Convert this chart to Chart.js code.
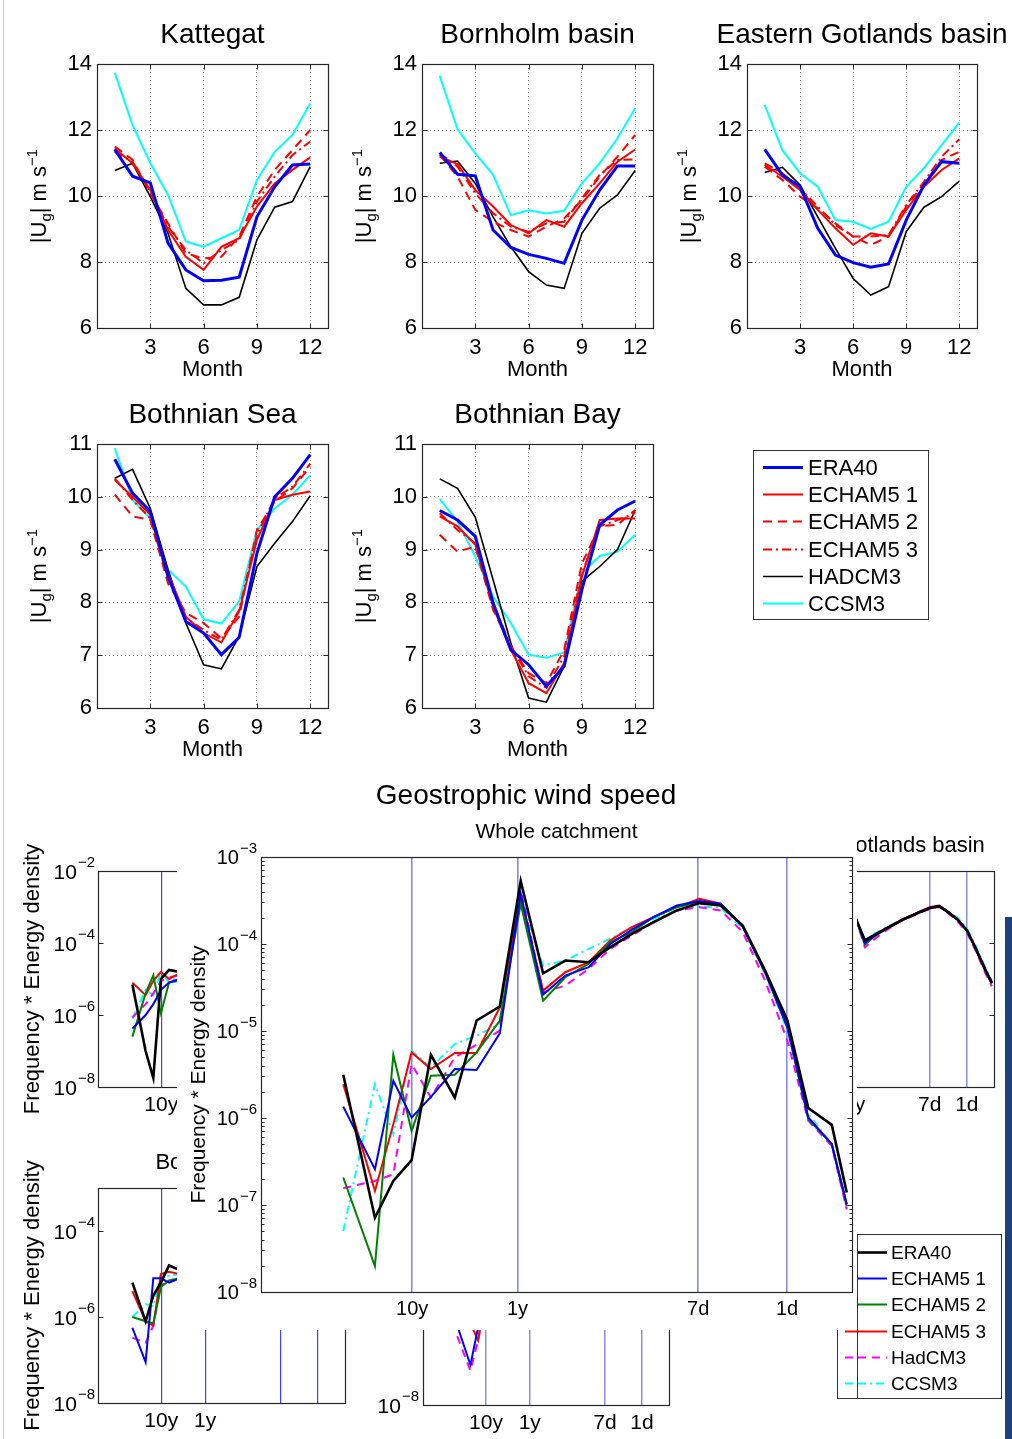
<!DOCTYPE html>
<html>
<head>
<meta charset="utf-8">
<title>Geostrophic wind speed</title>
<script src="https://cdn.jsdelivr.net/npm/chart.js@4.4.1/dist/chart.umd.min.js"></script>
<style>
  html, body { margin: 0; padding: 0; background: #fff; }
  #fig { position: relative; width: 1012px; height: 1439px; overflow: hidden; background: #fff; }
  #fig canvas { position: absolute; }
  .edge { position: absolute; }
</style>
</head>
<body>
<div id="fig">
  <div class="edge" style="left:3px;top:0;width:1px;height:1439px;background:#c3cede"></div>
  <div class="edge" style="left:1005px;top:917px;width:7px;height:522px;background:#1d3f7a"></div>
</div>
<script>
// ---------- monthly mean |Ug| (m/s) ----------
const months = [1, 2, 3, 4, 5, 6, 7, 8, 9, 10, 11, 12];
const monthTicks = [3, 6, 9, 12];

const katERA40 = [11.41, 10.6, 10.4, 8.57, 7.76, 7.43, 7.45, 7.54, 9.37, 10.28, 10.94, 10.97];
const katECHAM1 = [11.44, 10.99, 10.18, 8.97, 8.16, 7.76, 8.46, 8.72, 9.68, 10.38, 10.79, 11.17];
const katECHAM2 = [11.5, 11.1, 10.08, 9.17, 8.26, 8.11, 8.16, 8.77, 9.98, 10.79, 11.39, 12.0];
const katECHAM3 = [11.34, 11.04, 10.13, 9.07, 8.36, 7.96, 8.36, 8.67, 9.83, 10.59, 11.24, 11.65];
const katHADCM3 = [10.77, 10.99, 9.98, 8.87, 7.2, 6.7, 6.7, 6.93, 8.67, 9.66, 9.83, 10.89];
const katCCSM3 = [13.74, 12.15, 11.0, 10.03, 8.62, 8.46, 8.72, 8.97, 10.48, 11.34, 11.85, 12.8];

const borERA40 = [11.32, 10.66, 10.61, 8.97, 8.44, 8.23, 8.11, 7.96, 9.27, 10.18, 10.91, 10.91];
const borECHAM1 = [11.19, 10.97, 10.18, 9.68, 9.12, 8.87, 9.27, 9.07, 9.78, 10.38, 11.04, 11.41];
const borECHAM2 = [11.24, 10.59, 9.58, 9.22, 8.97, 8.77, 9.07, 9.32, 9.88, 10.59, 11.19, 11.85];
const borECHAM3 = [11.29, 10.89, 10.08, 9.48, 9.07, 8.92, 9.17, 9.22, 9.93, 10.64, 11.09, 11.11];
const borHADCM3 = [10.99, 11.06, 10.38, 9.37, 8.46, 7.71, 7.3, 7.2, 8.87, 9.63, 10.03, 10.77];
const borCCSM3 = [13.64, 12.02, 11.29, 10.64, 9.42, 9.57, 9.47, 9.55, 10.38, 10.99, 11.75, 12.66];

const gotERA40 = [11.41, 10.64, 10.28, 9.02, 8.21, 7.98, 7.84, 7.94, 9.27, 10.33, 11.04, 10.99];
const gotECHAM1 = [10.94, 10.59, 10.18, 9.58, 9.02, 8.52, 8.87, 8.77, 9.58, 10.28, 10.79, 11.14];
const gotECHAM2 = [10.89, 10.49, 9.98, 9.63, 9.17, 8.77, 8.52, 8.77, 9.68, 10.38, 11.09, 11.34];
const gotECHAM3 = [10.99, 10.69, 10.23, 9.68, 9.12, 8.77, 8.77, 8.82, 9.73, 10.43, 11.19, 11.72];
const gotHADCM3 = [10.71, 10.87, 10.33, 9.37, 8.41, 7.5, 7.0, 7.25, 8.92, 9.66, 9.98, 10.45];
const gotCCSM3 = [12.76, 11.39, 10.69, 10.28, 9.27, 9.22, 9.0, 9.22, 10.28, 10.84, 11.54, 12.22];

const seaERA40 = [10.71, 10.07, 9.72, 8.49, 7.64, 7.42, 7.01, 7.34, 8.93, 10.0, 10.35, 10.8];
const seaECHAM1 = [10.32, 10.0, 9.66, 8.55, 7.73, 7.42, 7.24, 7.83, 9.18, 9.94, 10.04, 10.1];
const seaECHAM2 = [10.04, 9.63, 9.56, 8.36, 7.8, 7.61, 7.32, 7.73, 9.37, 9.91, 10.16, 10.57];
const seaECHAM3 = [10.35, 9.94, 9.59, 8.46, 7.7, 7.48, 7.29, 7.86, 9.28, 9.97, 10.19, 10.63];
const seaHADCM3 = [10.35, 10.52, 9.78, 8.62, 7.61, 6.82, 6.74, 7.36, 8.68, 9.12, 9.53, 10.02];
const seaCCSM3 = [10.92, 9.94, 9.59, 8.62, 8.3, 7.68, 7.6, 8.02, 9.37, 9.78, 10.04, 10.41];

const bayERA40 = [9.74, 9.56, 9.25, 7.99, 7.1, 6.82, 6.41, 6.79, 8.24, 9.47, 9.75, 9.92];
const bayECHAM1 = [9.63, 9.44, 9.09, 7.92, 7.1, 6.47, 6.28, 6.85, 8.49, 9.56, 9.59, 9.59];
const bayECHAM2 = [9.28, 8.96, 9.06, 7.86, 7.17, 6.66, 6.47, 7.1, 8.74, 9.44, 9.47, 9.75];
const bayECHAM3 = [9.69, 9.37, 9.12, 7.99, 7.17, 6.6, 6.38, 6.98, 8.55, 9.44, 9.56, 9.69];
const bayHADCM3 = [10.34, 10.16, 9.61, 8.43, 7.23, 6.19, 6.11, 6.79, 8.4, 8.68, 9.0, 9.75];
const bayCCSM3 = [9.96, 9.53, 8.87, 8.11, 7.61, 7.01, 6.95, 7.05, 8.55, 8.88, 8.96, 9.28];

// ---------- spectra: frequency (cycles/day) * energy density ----------
const periodDays = [3652.5, 365.25, 7, 1];
const periodLabels = ['10y', '1y', '7d', '1d'];
const freq = [6.05e-5, 1.21e-4, 1.81e-4, 2.70e-4, 4.12e-4, 6.95e-4, 1.12e-3, 1.86e-3, 2.94e-3, 4.80e-3,
  7.80e-3, 1.30e-2, 2.09e-2, 3.35e-2, 5.37e-2, 8.97e-2, 0.147, 0.234, 0.379, 0.618, 1.007, 1.59, 2.66, 3.69];

const allERA40 = [3.14e-6, 7.14e-8, 1.89e-7, 3.27e-7, 5.33e-6, 1.72e-6, 1.32e-5, 1.91e-5, 5.30e-4, 4.61e-5, 6.46e-5, 6.18e-5, 9.2e-5, 1.31e-4, 1.78e-4, 2.43e-4, 2.95e-4, 2.77e-4, 1.63e-4, 4.95e-5, 1.32e-5, 1.30e-6, 8.34e-7, 1.39e-7];
const allECHAM1 = [1.35e-6, 2.58e-7, 2.68e-6, 1.01e-6, 1.75e-6, 3.65e-6, 3.56e-6, 9.4e-6, 3.79e-4, 2.62e-5, 4.34e-5, 5.41e-5, 1.0e-4, 1.46e-4, 2.04e-4, 2.77e-4, 3.11e-4, 2.9e-4, 1.59e-4, 4.74e-5, 1.10e-5, 1.01e-6, 5.0e-7, 1.02e-7];
const allECHAM2 = [2.07e-7, 1.98e-8, 5.33e-6, 7.11e-7, 3.06e-6, 3.14e-6, 5.68e-6, 1.32e-5, 2.9e-4, 2.23e-5, 4.15e-5, 5.92e-5, 1.05e-4, 1.37e-4, 2.04e-4, 2.65e-4, 3.03e-4, 2.85e-4, 1.59e-4, 4.74e-5, 1.10e-5, 9.7e-7, 5.0e-7, 1.02e-7];
const allECHAM3 = [2.45e-6, 1.45e-7, 8.49e-7, 5.68e-6, 3.65e-6, 5.58e-6, 5.58e-6, 1.87e-5, 3.46e-4, 2.91e-5, 4.74e-5, 6.18e-5, 1.10e-4, 1.56e-4, 2.04e-4, 2.65e-4, 3.31e-4, 2.9e-4, 1.59e-4, 4.95e-5, 1.15e-5, 1.01e-6, 5.0e-7, 9.75e-8];
const allHadCM3 = [1.56e-7, 1.89e-7, 2.25e-7, 4.17e-6, 1.72e-6, 4.98e-6, 6.97e-6, 1.01e-5, 4.13e-4, 2.79e-5, 3.33e-5, 5.18e-5, 8.79e-5, 1.25e-4, 1.78e-4, 2.43e-4, 2.65e-4, 2.43e-4, 1.37e-4, 3.8e-5, 7.74e-6, 9.27e-7, 4.79e-7, 8.9e-8];
const allCCSM3 = [5.0e-8, 2.45e-6, 6.52e-7, 5.94e-6, 3.82e-6, 7.08e-6, 8.83e-6, 1.21e-5, 3.62e-4, 5.65e-5, 6.46e-5, 8.79e-5, 1.15e-4, 1.56e-4, 1.95e-4, 2.47e-4, 2.7e-4, 2.61e-4, 1.5e-4, 4.53e-5, 1.01e-5, 1.11e-6, 5.0e-7, 9.3e-8];

// regional panels, mostly hidden behind the whole-catchment panel
const katSpecERA40 = [7.08e-6, 1.0e-7, 1.78e-8, 1.0e-5, 1.78e-5, 1.58e-5, 2.51e-5];
const katSpecECHAM1 = [4.17e-7, 1.0e-6, 2.0e-6, 5.01e-6, 7.94e-6, 1.0e-5, 1.58e-5];
const katSpecECHAM2 = [2.51e-7, 3.98e-6, 1.26e-5, 1.12e-6, 7.94e-6, 8.91e-6, 1.58e-5];
const katSpecECHAM3 = [7.94e-6, 3.55e-6, 8.91e-6, 1.58e-5, 1.0e-5, 1.41e-5, 2.0e-5];
const katSpecHadCM3 = [8.51e-7, 2.0e-6, 3.98e-6, 8.71e-6, 1.12e-5, 1.26e-5, 1.58e-5];
const katSpecCCSM3 = [7.94e-7, 5.01e-6, 3.55e-6, 1.58e-5, 7.94e-6, 1.26e-5, 2.0e-5];

const gotSpecERA40 = [5.01e-4, 1.20e-4, 1.66e-4, 2.34e-4, 3.16e-4, 4.37e-4, 5.62e-4, 7.41e-4, 9.33e-4, 1.05e-3, 7.08e-4, 4.47e-4, 2.24e-4, 7.08e-5, 1.78e-5, 7.94e-6];
const gotSpecECHAM1 = [5.01e-4, 1.0e-4, 1.58e-4, 2.29e-4, 3.16e-4, 4.37e-4, 5.62e-4, 7.59e-4, 9.55e-4, 1.07e-3, 7.24e-4, 4.47e-4, 2.24e-4, 7.08e-5, 1.70e-5, 7.59e-6];
const gotSpecECHAM2 = [5.01e-4, 8.91e-5, 1.51e-4, 2.24e-4, 3.16e-4, 4.27e-4, 5.62e-4, 7.41e-4, 9.33e-4, 1.05e-3, 7.08e-4, 4.37e-4, 2.19e-4, 6.92e-5, 1.66e-5, 7.59e-6];
const gotSpecECHAM3 = [5.01e-4, 1.0e-4, 1.58e-4, 2.34e-4, 3.31e-4, 4.47e-4, 5.75e-4, 7.76e-4, 1.0e-3, 1.10e-3, 7.41e-4, 4.57e-4, 2.19e-4, 6.76e-5, 1.58e-5, 7.41e-6];
const gotSpecHadCM3 = [5.01e-4, 7.59e-5, 1.26e-4, 2.0e-4, 3.02e-4, 4.17e-4, 5.37e-4, 7.08e-4, 8.91e-4, 1.0e-3, 6.61e-4, 3.98e-4, 1.91e-4, 6.03e-5, 1.41e-5, 6.31e-6];
const gotSpecCCSM3 = [5.01e-4, 1.12e-4, 1.82e-4, 2.51e-4, 3.39e-4, 4.57e-4, 5.75e-4, 7.59e-4, 9.55e-4, 1.05e-3, 7.59e-4, 5.01e-4, 2.51e-4, 8.32e-5, 2.0e-5, 8.91e-6];

const seaSpecERA40 = [6.31e-6, 7.94e-7, 3.16e-6, 6.31e-6, 1.58e-5, 1.26e-5, 2.0e-5];
const seaSpecECHAM1 = [5.62e-7, 8.91e-8, 7.94e-6, 7.94e-6, 6.31e-6, 7.94e-6, 1.26e-5];
const seaSpecECHAM2 = [1.0e-6, 7.94e-7, 7.08e-7, 5.01e-6, 7.08e-6, 7.94e-6, 1.26e-5];
const seaSpecECHAM3 = [3.98e-6, 7.94e-7, 6.31e-7, 1.0e-5, 1.12e-5, 1.0e-5, 1.58e-5];
const seaSpecHadCM3 = [3.31e-7, 2.51e-7, 6.31e-7, 5.62e-6, 6.31e-6, 7.94e-6, 1.26e-5];
const seaSpecCCSM3 = [1.0e-6, 2.0e-6, 1.78e-6, 1.0e-5, 8.91e-6, 1.0e-5, 1.58e-5];

const baySpecERA40 = [3.16e-6, 1.26e-6, 2.0e-6, 6.31e-6];
const baySpecECHAM1 = [7.08e-7, 8.51e-8, 6.31e-7, 3.98e-6];
const baySpecECHAM2 = [1.26e-6, 7.94e-7, 1.12e-6, 5.01e-6];
const baySpecECHAM3 = [1.26e-6, 7.94e-7, 3.16e-7, 3.98e-6];
const baySpecHadCM3 = [3.98e-7, 6.31e-8, 3.16e-7, 2.51e-6];
const baySpecCCSM3 = [2.0e-6, 1.0e-6, 1.58e-6, 6.31e-6];

// ---------- styles ----------
const FONT = "'Liberation Sans', Arial, Helvetica, sans-serif";
Chart.defaults.font.family = FONT;
Chart.defaults.color = '#000';

const monthlyStyle = [
  { label: 'ERA40', color: '#0000ff', width: 3, dash: [] },
  { label: 'ECHAM5 1', color: '#ff0000', width: 2, dash: [] },
  { label: 'ECHAM5 2', color: '#ff0000', width: 2, dash: [9, 6] },
  { label: 'ECHAM5 3', color: '#ff0000', width: 2, dash: [9, 4, 2, 4] },
  { label: 'HADCM3', color: '#000000', width: 1.6, dash: [] },
  { label: 'CCSM3', color: '#00ffff', width: 2, dash: [] }
];
const specStyle = [
  { label: 'ERA40', color: '#000000', width: 2.6, dash: [] },
  { label: 'ECHAM5 1', color: '#0000ff', width: 2, dash: [] },
  { label: 'ECHAM5 2', color: '#008000', width: 2, dash: [] },
  { label: 'ECHAM5 3', color: '#ff0000', width: 2, dash: [] },
  { label: 'HadCM3', color: '#ff00ff', width: 2, dash: [8, 6] },
  { label: 'CCSM3', color: '#00ffff', width: 2, dash: [8, 4, 2, 4] }
];
const ugLabel = [
  { t: '|U', size: 22 }, { t: 'g', size: 15, dy: 5 }, { t: '| m s', size: 22 }, { t: '\u22121', size: 15, dy: -9 }
];

const fig = document.getElementById('fig');
function addCanvas(x, y, w, h) {
  const c = document.createElement('canvas');
  c.width = w; c.height = h;
  c.style.left = x + 'px'; c.style.top = y + 'px';
  c.style.width = w + 'px'; c.style.height = h + 'px';
  fig.appendChild(c);
  return c;
}

function richText(ctx, parts, cx, cy, rot) {
  ctx.save();
  ctx.translate(cx, cy);
  ctx.rotate(rot);
  ctx.textAlign = 'left';
  ctx.textBaseline = 'alphabetic';
  ctx.fillStyle = '#000';
  const widths = parts.map(p => { ctx.font = p.size + 'px ' + FONT; return ctx.measureText(p.t).width; });
  let x = -widths.reduce((s, w) => s + w, 0) / 2;
  parts.forEach((p, i) => {
    ctx.font = p.size + 'px ' + FONT;
    ctx.fillText(p.t, x, 8 + (p.dy || 0));
    x += widths[i];
  });
  ctx.restore();
}

function drawLegend(ctx, chart, L) {
  ctx.save();
  ctx.fillStyle = '#fff';
  ctx.fillRect(L.x, L.y, L.w, L.h);
  ctx.strokeStyle = '#333'; ctx.lineWidth = 1; ctx.setLineDash([]);
  ctx.strokeRect(L.x + 0.5, L.y + 0.5, L.w, L.h);
  chart.data.datasets.forEach((ds, i) => {
    const y = Math.round(L.row0 + i * L.dy) + 0.5;
    ctx.strokeStyle = ds.borderColor;
    ctx.lineWidth = ds.borderWidth;
    ctx.setLineDash(ds.borderDash || []);
    ctx.beginPath(); ctx.moveTo(L.s0, y); ctx.lineTo(L.s1, y); ctx.stroke();
    ctx.setLineDash([]);
    ctx.fillStyle = '#000';
    ctx.font = L.size + 'px ' + FONT;
    ctx.textAlign = 'left'; ctx.textBaseline = 'middle';
    ctx.fillText(ds.label, L.tx, y + 1);
  });
  ctx.restore();
}

// frame, inward ticks, titles, power-of-ten labels, legends
function deco(cfg) {
  return {
    id: 'deco',
    beforeDraw(chart) {
      const ctx = chart.ctx;
      if (cfg.backLegend) drawLegend(ctx, chart, cfg.backLegend);
      if (cfg.backdrop) {
        ctx.save(); ctx.fillStyle = '#fff'; ctx.fillRect(...cfg.backdrop); ctx.restore();
      }
    },
    afterDraw(chart) {
      const ctx = chart.ctx, a = chart.chartArea, xs = chart.scales.x, ys = chart.scales.y;
      const L = Math.round(a.left) + 0.5, R = Math.round(a.right) + 0.5;
      const T = Math.round(a.top) + 0.5, B = Math.round(a.bottom) + 0.5;
      ctx.save();
      ctx.strokeStyle = '#262626'; ctx.lineWidth = 1; ctx.setLineDash([]);
      ctx.beginPath();
      (cfg.yMajor || []).forEach(v => {
        const p = Math.round(ys.getPixelForValue(v)) + 0.5;
        ctx.moveTo(L, p); ctx.lineTo(L + 5, p); ctx.moveTo(R, p); ctx.lineTo(R - 5, p);
      });
      (cfg.yMinor || []).forEach(v => {
        const p = Math.round(ys.getPixelForValue(v)) + 0.5;
        ctx.moveTo(L, p); ctx.lineTo(L + 3, p); ctx.moveTo(R, p); ctx.lineTo(R - 3, p);
      });
      (cfg.xMajor || []).forEach(v => {
        const p = Math.round(xs.getPixelForValue(v)) + 0.5;
        ctx.moveTo(p, B); ctx.lineTo(p, B - 5); ctx.moveTo(p, T); ctx.lineTo(p, T + 5);
      });
      ctx.stroke();
      ctx.lineWidth = 1.2;
      ctx.strokeRect(L, T, R - L, B - T);
      ctx.fillStyle = '#000';
      if (cfg.title) {
        ctx.font = cfg.titleSize + 'px ' + FONT;
        ctx.textAlign = 'center'; ctx.textBaseline = 'middle';
        ctx.fillText(cfg.title, (a.left + a.right) / 2, a.top - cfg.titleGap);
      }
      if (cfg.ylabel) richText(ctx, cfg.ylabel, a.left - cfg.ylabelGap, (a.top + a.bottom) / 2, -Math.PI / 2);
      if (cfg.pow) {
        const P = cfg.pow;
        P.exps.forEach(e => {
          const y = ys.getPixelForValue(Math.pow(10, e));
          const es = '\u2212' + Math.abs(e);
          ctx.textAlign = 'right'; ctx.textBaseline = 'alphabetic';
          ctx.font = P.small + 'px ' + FONT;
          const ew = ctx.measureText(es).width;
          ctx.fillText(es, a.left - P.gap, y - P.small * 0.3);
          ctx.font = P.big + 'px ' + FONT;
          ctx.fillText('10', a.left - P.gap - ew - 1, y + P.big * 0.36);
        });
      }
      (cfg.texts || []).forEach(t => {
        ctx.font = t.size + 'px ' + FONT;
        ctx.textAlign = 'center'; ctx.textBaseline = 'middle';
        ctx.fillText(t.text, t.x, t.y);
      });
      if (cfg.legend) drawLegend(ctx, chart, cfg.legend);
      ctx.restore();
    }
  };
}

function monthlyChart(rect, plot, title, yMin, yMax, yStep, series, legend) {
  const [cx, cy, cw, ch] = rect;
  const [l, t, r, b] = plot;
  const yTicks = [];
  for (let v = yMin; v <= yMax; v += yStep) yTicks.push(v);
  return new Chart(addCanvas(cx, cy, cw, ch), {
    type: 'line',
    data: {
      datasets: series.map((vals, i) => ({
        label: monthlyStyle[i].label,
        data: vals.map((v, j) => ({ x: months[j], y: v })),
        borderColor: monthlyStyle[i].color,
        borderWidth: monthlyStyle[i].width,
        borderDash: monthlyStyle[i].dash,
        pointRadius: 0, fill: false, tension: 0
      }))
    },
    options: {
      responsive: false, devicePixelRatio: 1, animation: false,
      layout: { padding: { left: 0, top: t - cy, right: cx + cw - r, bottom: 0 } },
      plugins: { legend: { display: false }, tooltip: { enabled: false } },
      scales: {
        x: {
          type: 'linear', min: 0, max: 13,
          afterBuildTicks: s => { s.ticks = monthTicks.map(v => ({ value: v })); },
          afterFit: s => { s.height = cy + ch - b; },
          ticks: { autoSkip: false, maxRotation: 0, padding: 7, font: { size: 22 } },
          grid: { color: 'rgba(0,0,0,0.45)', drawTicks: false, lineWidth: 1 },
          border: { display: false, dash: [1, 3] },
          title: { display: true, text: 'Month', font: { size: 22 }, padding: { top: 0, bottom: 9 } }
        },
        y: {
          type: 'linear', min: yMin, max: yMax,
          afterBuildTicks: s => { s.ticks = yTicks.map(v => ({ value: v })); },
          afterFit: s => { s.width = l - cx; },
          ticks: { autoSkip: false, padding: 5, font: { size: 22 } },
          grid: { color: 'rgba(0,0,0,0.45)', drawTicks: false, lineWidth: 1 },
          border: { display: false, dash: [1, 3] }
        }
      }
    },
    plugins: [deco({
      yMajor: yTicks, xMajor: monthTicks,
      title: title, titleSize: 28, titleGap: 29,
      ylabel: ugLabel, ylabelGap: 59,
      legend: legend
    })]
  });
}

const fMin = 1e-5, fMax = 4.14;
function spectrumChart(rect, plot, yMin, yMax, xs, series, cfg) {
  const [cx, cy, cw, ch] = rect;
  const [l, t, r, b] = plot;
  return new Chart(addCanvas(cx, cy, cw, ch), {
    type: 'line',
    data: {
      datasets: series.map((vals, i) => ({
        label: specStyle[i].label,
        data: vals.map((v, j) => ({ x: xs[j], y: v })),
        borderColor: specStyle[i].color,
        borderWidth: specStyle[i].width,
        borderDash: specStyle[i].dash,
        pointRadius: 0, fill: false, tension: 0
      }))
    },
    options: {
      responsive: false, devicePixelRatio: 1, animation: false,
      layout: { padding: { left: 0, top: t - cy, right: cx + cw - r, bottom: cy + ch - b - cfg.axisH } },
      plugins: { legend: { display: false }, tooltip: { enabled: false } },
      scales: {
        x: {
          type: 'logarithmic', min: fMin, max: fMax,
          afterBuildTicks: s => { s.ticks = periodDays.map(d => ({ value: 1 / d })); },
          afterFit: s => { s.height = cfg.axisH; },
          ticks: { autoSkip: false, maxRotation: 0, padding: cfg.xPad, font: { size: cfg.tickSize },
            callback: (v, i) => cfg.xLabels[i] },
          grid: { color: cfg.vColor, lineWidth: cfg.vWidth, drawTicks: false },
          border: { display: false }
        },
        y: {
          type: 'logarithmic', min: yMin, max: yMax,
          afterFit: s => { s.width = l - cx; },
          ticks: { display: false },
          grid: { display: false },
          border: { display: false },
          title: cfg.ytitle
            ? { display: true, text: 'Frequency * Energy density', font: { size: cfg.ytitleSize }, padding: { top: cfg.ytitlePad, bottom: 0 } }
            : { display: false }
        }
      }
    },
    plugins: [deco(cfg.deco)]
  });
}

const regionStyle = {
  tickSize: 21, xPad: 6, vColor: 'rgba(0,0,255,0.75)', vWidth: 1.2, ytitleSize: 22, ytitlePad: 20
};

// back row of regional spectra
spectrumChart([0, 780, 348, 340], [98, 871, 345, 1087], 1e-8, 1e-2, freq.slice(0, 7),
  [katSpecERA40, katSpecECHAM1, katSpecECHAM2, katSpecECHAM3, katSpecHadCM3, katSpecCCSM3],
  Object.assign({}, regionStyle, { axisH: 33, xLabels: periodLabels, ytitle: true,
    deco: { title: 'Kattegat', titleSize: 22, titleGap: 25, yMajor: [1e-8, 1e-6, 1e-4, 1e-2],
      pow: { exps: [-2, -4, -6, -8], big: 21, small: 15, gap: 3 } } }));

spectrumChart([680, 780, 332, 340], [747, 871, 994, 1087], 1e-8, 1e-2, freq.slice(8),
  [gotSpecERA40, gotSpecECHAM1, gotSpecECHAM2, gotSpecECHAM3, gotSpecHadCM3, gotSpecCCSM3],
  Object.assign({}, regionStyle, { axisH: 33, xLabels: periodLabels, ytitle: false,
    vColor: 'rgba(60,60,255,0.6)', vWidth: 1.5,
    deco: { title: 'Eastern Gotlands basin', titleSize: 22, titleGap: 25, yMajor: [1e-8, 1e-6, 1e-4, 1e-2],
      pow: { exps: [-2, -4, -6, -8], big: 21, small: 15, gap: 3 } } }));

spectrumChart([0, 1140, 348, 299], [98, 1188, 345, 1403], 1e-8, 1e-3, freq.slice(0, 7),
  [seaSpecERA40, seaSpecECHAM1, seaSpecECHAM2, seaSpecECHAM3, seaSpecHadCM3, seaSpecCCSM3],
  Object.assign({}, regionStyle, { axisH: 36, xLabels: ['10y', '1y', '', ''], ytitle: true,
    deco: { title: 'Bothnian Sea', titleSize: 22, titleGap: 25, yMajor: [1e-8, 1e-6, 1e-4],
      pow: { exps: [-4, -6, -8], big: 21, small: 15, gap: 3 } } }));

spectrumChart([350, 1140, 330, 299], [423, 1190, 669, 1405], 1e-8, 1e-3, freq.slice(0, 4),
  [baySpecERA40, baySpecECHAM1, baySpecECHAM2, baySpecECHAM3, baySpecHadCM3, baySpecCCSM3],
  Object.assign({}, regionStyle, { axisH: 34, xLabels: periodLabels, ytitle: false,
    vColor: 'rgba(60,60,255,0.6)', vWidth: 1.5,
    deco: { title: 'Bothnian Bay', titleSize: 22, titleGap: 25, yMajor: [1e-8, 1e-6, 1e-4],
      pow: { exps: [-4, -6, -8], big: 21, small: 15, gap: 4 } } }));

// monthly panels
monthlyChart([0, 0, 345, 392], [97, 64, 328, 328], 'Kattegat', 6, 14, 2,
  [katERA40, katECHAM1, katECHAM2, katECHAM3, katHADCM3, katCCSM3]);
monthlyChart([345, 0, 325, 392], [422, 64, 653, 328], 'Bornholm basin', 6, 14, 2,
  [borERA40, borECHAM1, borECHAM2, borECHAM3, borHADCM3, borCCSM3]);
monthlyChart([670, 0, 342, 392], [747, 64, 977, 328], 'Eastern Gotlands basin', 6, 14, 2,
  [gotERA40, gotECHAM1, gotECHAM2, gotECHAM3, gotHADCM3, gotCCSM3]);
monthlyChart([0, 392, 345, 380], [97, 444, 328, 708], 'Bothnian Sea', 6, 11, 1,
  [seaERA40, seaECHAM1, seaECHAM2, seaECHAM3, seaHADCM3, seaCCSM3]);
monthlyChart([345, 392, 595, 380], [422, 444, 653, 708], 'Bothnian Bay', 6, 11, 1,
  [bayERA40, bayECHAM1, bayECHAM2, bayECHAM3, bayHADCM3, bayCCSM3],
  { x: 408, y: 58, w: 175, h: 169, row0: 75, dy: 27.2, s0: 418, s1: 458, tx: 463, size: 22 });

// whole catchment, drawn on top
const minorDecades = [];
[-8, -7, -6, -5, -4].forEach(e => { for (let k = 2; k <= 9; k++) minorDecades.push(k * Math.pow(10, e)); });

spectrumChart([177, 775, 828, 625], [261, 857, 852, 1292], 1e-8, 1e-3, freq,
  [allERA40, allECHAM1, allECHAM2, allECHAM3, allHadCM3, allCCSM3],
  { axisH: 38, xLabels: periodLabels, tickSize: 20, xPad: 5, vColor: 'rgba(70,70,235,0.65)', vWidth: 1.6,
    ytitle: true, ytitleSize: 21, ytitlePad: 10,
    deco: {
      backdrop: [0, 40, 680, 515],
      backLegend: { x: 660, y: 459, w: 150, h: 164, row0: 477, dy: 26.2, s0: 668, s1: 697, tx: 701, size: 19 },
      legend: { x: 680, y: 459, w: 144, h: 164, row0: 477, dy: 26.2, s0: 681, s1: 710, tx: 714, size: 19 },
      title: 'Whole catchment', titleSize: 21, titleGap: 25,
      yMajor: [1e-8, 1e-7, 1e-6, 1e-5, 1e-4, 1e-3], yMinor: minorDecades,
      pow: { exps: [-3, -4, -5, -6, -7, -8], big: 20, small: 15, gap: 4 },
      texts: [{ text: 'Geostrophic wind speed', size: 28, x: 349, y: 21 }]
    } });
</script>
</body>
</html>
